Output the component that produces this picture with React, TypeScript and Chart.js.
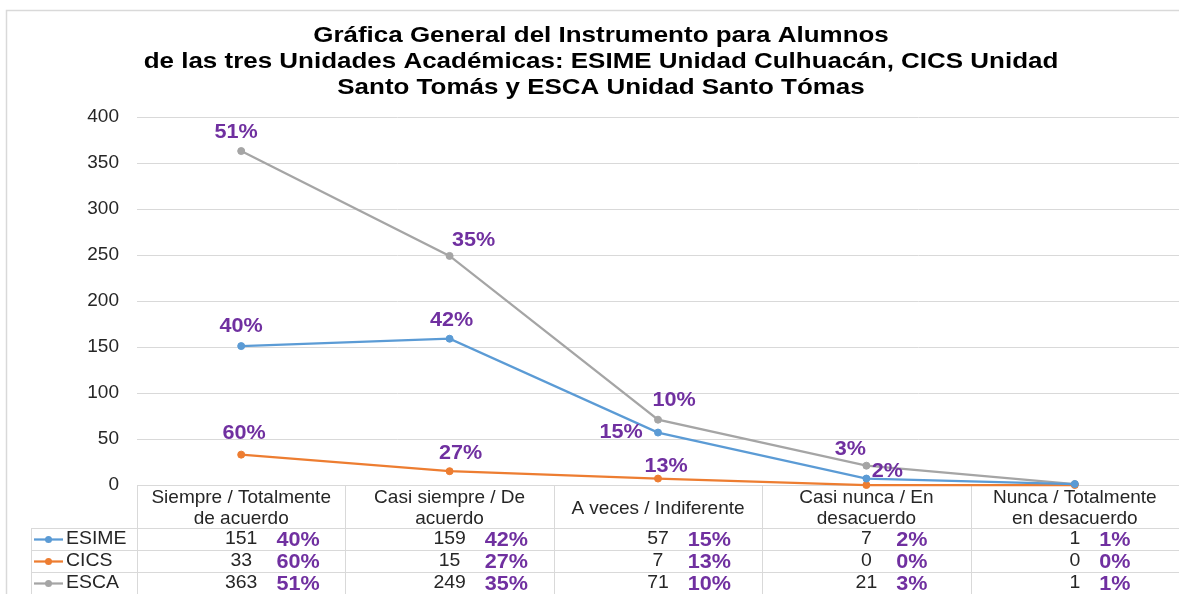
import React, { useEffect, useRef } from 'react';
import { Chart, registerables } from 'chart.js';

Chart.register(...registerables);

// ---------- DATA ----------
const categories: string[][] = [
  ['Siempre / Totalmente', 'de acuerdo'],
  ['Casi siempre / De', 'acuerdo'],
  ['A veces / Indiferente'],
  ['Casi nunca / En', 'desacuerdo'],
  ['Nunca / Totalmente', 'en desacuerdo'],
];
const seriesNames = ['ESIME', 'CICS', 'ESCA'];
const esimeValues = [151, 159, 57, 7, 1];
const cicsValues = [33, 15, 7, 0, 0];
const escaValues = [363, 249, 71, 21, 1];
const esimePct = [40, 42, 15, 2, 1];
const cicsPct = [60, 27, 13, 0, 0];
const escaPct = [51, 35, 10, 3, 1];
const yMin = 0;
const yMax = 400;
const yStep = 50;
const titleLines = [
  'Gráfica General del Instrumento para Alumnos',
  'de las tres Unidades Académicas: ESIME Unidad Culhuacán, CICS Unidad',
  'Santo Tomás y ESCA Unidad Santo Tómas',
];

// ---------- STYLE ----------
const seriesColors = ['#5B9BD5', '#ED7D31', '#A5A5A5'];
const PURPLE = '#7030A0';
const TEXT = '#262626';
const GRID = '#d9d9d9';
const SX = 1.08; // horizontal text stretch of the reference
// label offsets (dx, dy) from each point; null = no label
const labelOffsets: ([number, number] | null)[][] = [
  [[0, -20], [2, -18], [-37, 0], [21, -7], null],
  [[3, -21], [11, -18], [8, -12], null, null],
  [[-5, -19], [24, -15], [16, -19], [-16, -16], null],
];

const valuesBySeries = [esimeValues, cicsValues, escaValues];
const pctBySeries = [esimePct, cicsPct, escaPct];

function drawText(
  ctx: CanvasRenderingContext2D,
  text: string,
  x: number,
  y: number,
  font: string,
  color: string,
  align: CanvasTextAlign,
  sx = SX
) {
  ctx.save();
  ctx.font = font;
  ctx.fillStyle = color;
  ctx.textAlign = align;
  ctx.textBaseline = 'middle';
  ctx.translate(x, y);
  ctx.scale(sx, 1);
  ctx.fillText(text, 0, 0);
  ctx.restore();
}

const FONT_TBL = '18px "Liberation Sans", Arial, sans-serif';
const FONT_PCT = 'bold 20px "Liberation Sans", Arial, sans-serif';
const FONT_TITLE = 'bold 22px "Liberation Sans", Arial, sans-serif';

const HEADER_BOTTOM = 528;
const ROW_H = 22;
const LEGEND_LEFT = 31;

const customPlugin = {
  id: 'custom',
  beforeDraw(chart: any) {
    const { ctx, width, height } = chart;
    ctx.save();
    ctx.fillStyle = '#ffffff';
    ctx.fillRect(0, 0, width, height);
    // outer frame
    ctx.strokeStyle = GRID;
    ctx.lineWidth = 1.5;
    ctx.beginPath();
    ctx.moveTo(6.5, height);
    ctx.lineTo(6.5, 10.5);
    ctx.lineTo(width, 10.5);
    ctx.stroke();
    ctx.restore();
    // title
    const ys = [36, 62, 88];
    titleLines.forEach((t, i) => drawText(ctx, t, 601, ys[i], FONT_TITLE, '#000000', 'center', 1.18));
  },
  beforeDatasetsDraw(chart: any) {
    const { ctx, chartArea, width, height } = chart;
    const xs = chart.scales.x;
    const n = categories.length;
    const colW = (chartArea.right - chartArea.left) / n;
    ctx.save();
    ctx.strokeStyle = GRID;
    ctx.lineWidth = 1;
    ctx.beginPath();
    // horizontal lines
    ctx.moveTo(chartArea.left, Math.round(chartArea.bottom) + 0.5);
    ctx.lineTo(width, Math.round(chartArea.bottom) + 0.5);
    for (let r = 0; r < seriesNames.length; r++) {
      const y = HEADER_BOTTOM + r * ROW_H + 0.5;
      ctx.moveTo(LEGEND_LEFT, y);
      ctx.lineTo(width, y);
    }
    // vertical lines
    for (let k = 0; k <= n; k++) {
      const x = Math.round(chartArea.left + k * colW) + 0.5;
      ctx.moveTo(x, chartArea.bottom);
      ctx.lineTo(x, height);
    }
    ctx.moveTo(LEGEND_LEFT + 0.5, HEADER_BOTTOM);
    ctx.lineTo(LEGEND_LEFT + 0.5, height);
    ctx.stroke();
    ctx.restore();

    // rows
    ctx.save();
    ctx.font = FONT_TBL;
    const maxHalf: number[] = [];
    for (let i = 0; i < n; i++) {
      let m = 0;
      valuesBySeries.forEach((vals) => {
        m = Math.max(m, (ctx.measureText(String(vals[i])).width * SX) / 2);
      });
      maxHalf.push(m);
    }
    ctx.restore();

    seriesNames.forEach((name, r) => {
      const cy = HEADER_BOTTOM + r * ROW_H + ROW_H / 2 + 0.5;
      // legend key
      ctx.save();
      ctx.strokeStyle = seriesColors[r];
      ctx.lineWidth = 2.25;
      ctx.beginPath();
      ctx.moveTo(34, cy);
      ctx.lineTo(63, cy);
      ctx.stroke();
      ctx.fillStyle = seriesColors[r];
      ctx.beginPath();
      ctx.arc(48.5, cy, 3.5, 0, Math.PI * 2);
      ctx.fill();
      ctx.restore();
      drawText(ctx, name, 66, cy, FONT_TBL, TEXT, 'left');
      for (let i = 0; i < n; i++) {
        const cx = xs.getPixelForValue(i);
        drawText(ctx, String(valuesBySeries[r][i]), cx, cy, FONT_TBL, TEXT, 'center');
        drawText(ctx, pctBySeries[r][i] + '%', cx + maxHalf[i] + 19, cy + 1, FONT_PCT, PURPLE, 'left');
      }
    });
  },
  afterDatasetsDraw(chart: any) {
    const { ctx } = chart;
    chart.data.datasets.forEach((ds: any, s: number) => {
      const meta = chart.getDatasetMeta(s);
      meta.data.forEach((pt: any, i: number) => {
        const off = labelOffsets[s][i];
        if (!off) return;
        drawText(ctx, pctBySeries[s][i] + '%', pt.x + off[0], pt.y + off[1], FONT_PCT, PURPLE, 'center');
      });
    });
  },
};

export default function App() {
  const ref = useRef<HTMLCanvasElement | null>(null);
  useEffect(() => {
    document.body.style.margin = '0';
    const canvas = ref.current;
    if (!canvas) return;
    const chart = new Chart(canvas, {
      type: 'line',
      data: {
        labels: categories as any,
        datasets: seriesNames.map((name, s) => ({
          label: name,
          data: valuesBySeries[s],
          borderColor: seriesColors[s],
          backgroundColor: seriesColors[s],
          pointBackgroundColor: seriesColors[s],
          pointBorderColor: seriesColors[s],
          pointRadius: 3.5,
          pointBorderWidth: 1,
          borderWidth: 2.25,
          tension: 0,
          fill: false,
          clip: false,
        })),
      },
      options: {
        responsive: false,
        maintainAspectRatio: false,
        animation: false,
        layout: { autoPadding: false, padding: { top: 117, left: 0, right: 0, bottom: 594 - HEADER_BOTTOM } },
        plugins: {
          legend: { display: false },
          title: { display: false },
          tooltip: { enabled: false },
        },
        scales: {
          x: {
            offset: true,
            grid: { display: false },
            border: { display: false },
            ticks: {
              autoSkip: false,
              maxRotation: 0,
              minRotation: 0,
              color: TEXT,
              padding: 5,
              crossAlign: 'center',
              font: { family: '"Liberation Sans", Arial, sans-serif', size: 19, lineHeight: 1.1 },
            },
            afterFit: (scale: any) => {
              scale.height = 43;
              scale.paddingLeft = 0;
              scale.paddingRight = 0;
            },
          },
          y: {
            min: yMin,
            max: yMax,
            ticks: {
              stepSize: yStep,
              color: TEXT,
              padding: 18,
              font: { family: '"Liberation Sans", Arial, sans-serif', size: 19 },
            },
            grid: { color: GRID, drawTicks: false, lineWidth: 1 },
            border: { display: false },
            afterFit: (scale: any) => {
              scale.width = 137;
            },
          },
        },
      },
      plugins: [customPlugin],
    });
    return () => chart.destroy();
  }, []);
  return (
    <div style={{ width: 1179, height: 594 }}>
      <canvas ref={ref} width={1179} height={594} style={{ display: 'block' }} />
    </div>
  );
}
